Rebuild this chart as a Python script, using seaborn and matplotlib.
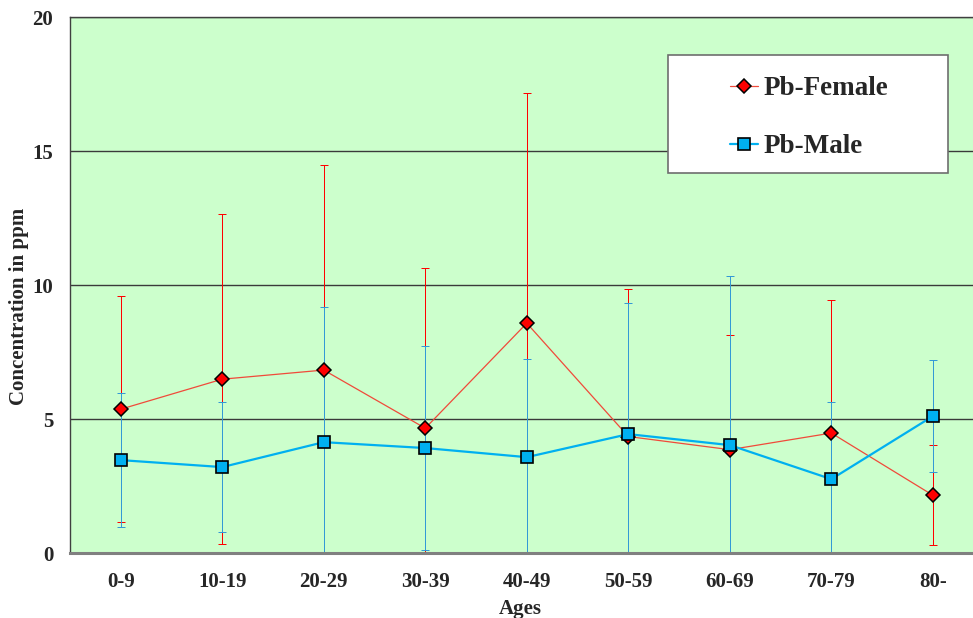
import numpy as np
import pandas as pd
import matplotlib
matplotlib.use("Agg")
import matplotlib.pyplot as plt
from matplotlib.patches import Rectangle
import seaborn as sns

# Lead (Pb) concentration by age group: mean and standard deviation
ages = ["0-9", "10-19", "20-29", "30-39", "40-49", "50-59", "60-69", "70-79", "80-"]
female_mean = [5.37, 6.49, 6.83, 4.66, 8.58, 4.35, 3.86, 4.48, 2.16]
female_sd = [4.22, 6.16, 7.65, 5.97, 8.60, 5.50, 4.27, 4.96, 1.87]
male_mean = [3.47, 3.21, 4.14, 3.92, 3.58, 4.44, 4.03, 2.76, 5.11]
male_sd = [2.50, 2.43, 5.04, 3.80, 3.66, 4.89, 6.31, 2.87, 2.09]
yticks = [0, 5, 10, 15, 20]

pos = np.arange(len(ages))
female = pd.DataFrame({"pos": pos, "mean": female_mean, "sd": female_sd})
male = pd.DataFrame({"pos": pos, "mean": male_mean, "sd": male_sd})

sns.set_theme(style="white")
plt.rcParams["font.family"] = ["Liberation Serif", "DejaVu Serif"]
plt.rcParams["font.weight"] = "bold"

RED = "#FF0000"
RED_LINE = "#F04A3A"
BLUE = "#00B0F0"
BLUE_BAR = "#3399D6"

fig = plt.figure(figsize=(9.73, 6.18), dpi=100)
ax = fig.add_axes([0.0719, 0.105, 0.939, 0.8673])
ax.set_facecolor("#CCFFCC")


def draw_errorbars(df, color, z):
    eb = ax.errorbar(df["pos"], df["mean"], yerr=df["sd"], fmt="none",
                     ecolor=color, elinewidth=0.72, capsize=2.6, capthick=0.72,
                     zorder=z)
    for coll in eb[2]:
        coll.set_antialiased(False)
    for cap in eb[1]:
        cap.set_antialiased(False)


# error bars (female below male)
draw_errorbars(female, RED, 2)
draw_errorbars(male, BLUE_BAR, 2.2)

sns.lineplot(data=female, x="pos", y="mean", ax=ax, color=RED_LINE, lw=0.9,
             marker="D", markersize=7.2, markerfacecolor=RED,
             markeredgecolor="black", markeredgewidth=1.1,
             errorbar=None, sort=False, label="Pb-Female", zorder=3)
sns.lineplot(data=male, x="pos", y="mean", ax=ax, color=BLUE, lw=1.6,
             marker="s", markersize=8.6, markerfacecolor=BLUE,
             markeredgecolor="black", markeredgewidth=1.2,
             errorbar=None, sort=False, label="Pb-Male", zorder=4)

ax.set_xlim(-0.5, len(ages) - 0.5)
ax.set_ylim(0, 20)

# category labels at centres, tick marks on boundaries
ax.set_xticks(pos)
ax.set_xticklabels(ages, fontsize=15, fontweight="bold")
ax.set_xticks(np.arange(len(ages) + 1) - 0.5, minor=True)
ax.tick_params(axis="x", which="major", length=0, pad=13.5)
ax.tick_params(axis="x", which="minor", direction="in", length=5,
               width=1, color="#333333")
ax.set_yticks(yticks)
ax.set_yticklabels([str(t) for t in yticks], fontsize=15, fontweight="bold")
ax.tick_params(axis="y", length=0, pad=12)

ax.yaxis.grid(True, color="#3A3A3A", lw=1.0)
ax.xaxis.grid(False)
ax.set_axisbelow(True)

for side in ["left", "top"]:
    ax.spines[side].set_color("#404040")
    ax.spines[side].set_linewidth(1.0)
ax.spines["bottom"].set_color("#808080")
ax.spines["bottom"].set_linewidth(2.2)
ax.spines["right"].set_visible(False)

ax.set_xlabel("Ages", fontsize=15, fontweight="bold")
ax.set_ylabel("Concentration in ppm", fontsize=15, fontweight="bold")
ax.xaxis.set_label_coords(0.493, -0.086)
ax.yaxis.set_label_coords(-0.045, 0.46)

# legend box
ax.add_patch(Rectangle((0.655, 0.709), 0.306, 0.22, transform=ax.transAxes,
                       facecolor="white", edgecolor="#6E6E6E", lw=1.2, zorder=5))
leg = ax.legend(loc="center", bbox_to_anchor=(0.809, 0.812), frameon=False,
                prop={"family": "Liberation Serif", "weight": "bold", "size": 19.5},
                handlelength=1.05, handletextpad=0.2, labelspacing=1.22,
                borderpad=0)
leg.set_zorder(6)

fig.savefig("out.png", dpi=100)
